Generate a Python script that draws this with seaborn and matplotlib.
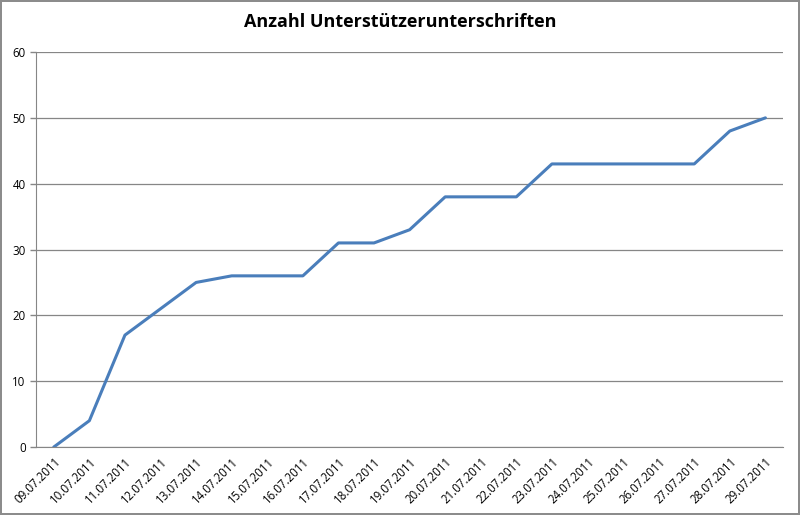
import matplotlib
matplotlib.use("Agg")
import matplotlib.pyplot as plt
import seaborn as sns
import pandas as pd
import numpy as np

dates = ["09.07.2011", "10.07.2011", "11.07.2011", "12.07.2011", "13.07.2011",
         "14.07.2011", "15.07.2011", "16.07.2011", "17.07.2011", "18.07.2011",
         "19.07.2011", "20.07.2011", "21.07.2011", "22.07.2011", "23.07.2011",
         "24.07.2011", "25.07.2011", "26.07.2011", "27.07.2011", "28.07.2011",
         "29.07.2011"]
signatures = [0, 4, 17, 21, 25, 26, 26, 26, 31, 31, 33, 38, 38, 38, 43,
              43, 43, 43, 43, 48, 50]

sns.set_style("white")
plt.rcParams['font.family'] = ['Open Sans', 'DejaVu Sans']
plt.rcParams['text.color'] = 'black'
plt.rcParams['xtick.color'] = 'black'
plt.rcParams['ytick.color'] = 'black'

df = pd.DataFrame({"idx": range(len(dates)), "n": signatures})

fig = plt.figure(figsize=(8, 5.15), dpi=100)
fig.patch.set_edgecolor("#8c8c8c")
fig.patch.set_linewidth(1.5)
ax = fig.add_axes([0.045, 0.132, 0.934, 0.767])

sns.lineplot(data=df, x="idx", y="n", ax=ax, color="#4a7ebb", linewidth=2.2)

ax.set_xlim(-0.5, len(dates) - 0.5)
ax.set_ylim(0, 60)
ax.set_yticks(range(0, 61, 10))
ax.set_xticks(range(len(dates)))
ax.set_xticklabels(dates, rotation=45, ha="right", rotation_mode="anchor", fontsize=8.3)
ax.set_xticks(np.arange(-0.5, len(dates), 1), minor=True)
ax.tick_params(axis="x", which="major", length=0, pad=6, labelcolor="black")
ax.tick_params(axis="x", which="minor", length=4, color="#868686", width=1, direction="out")
ax.tick_params(axis="y", length=4, color="#868686", width=1, direction="out", labelsize=8.3,
               left=True, labelcolor="black")
ax.set_xlabel("")
ax.set_ylabel("")
ax.grid(axis="y", color="#868686", linewidth=0.9)
for s in ["top", "right"]:
    ax.spines[s].set_visible(False)
ax.spines["left"].set_color("#868686")
ax.spines["bottom"].set_color("#868686")
ax.set_axisbelow(True)

fig.suptitle("Anzahl Unterstützerunterschriften", fontweight="bold", fontsize=13,
             y=0.975, color="black")

fig.savefig("out.png", dpi=100)
